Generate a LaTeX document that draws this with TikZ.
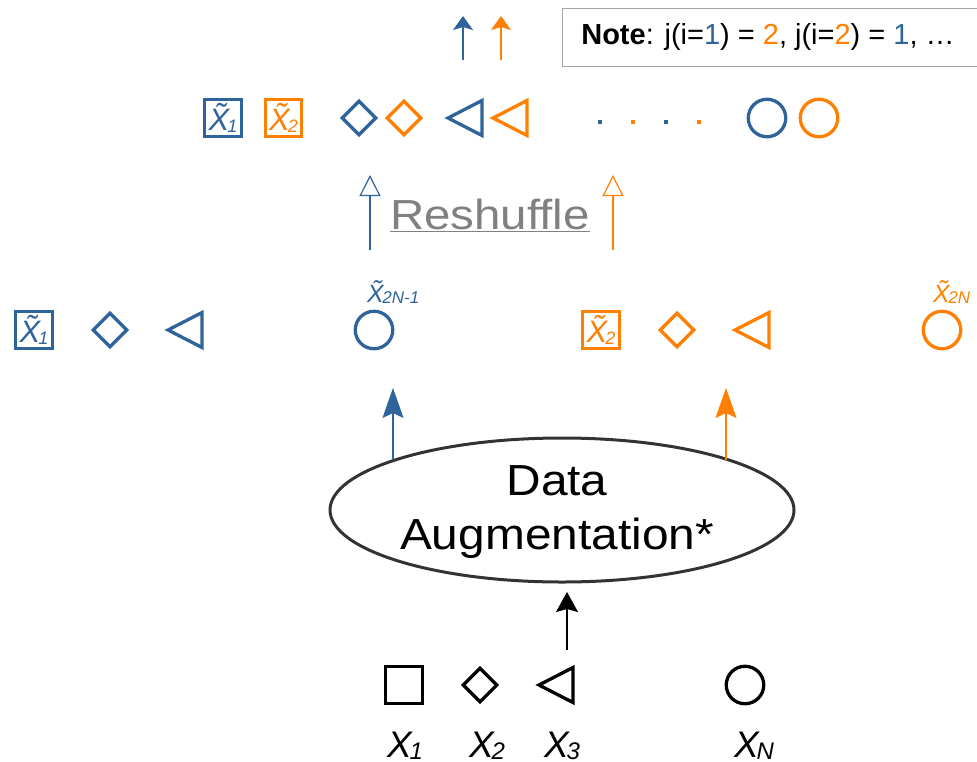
\documentclass[tikz,border=0pt]{standalone}
\usepackage{fontspec}
\setmainfont{Liberation Sans}
\usetikzlibrary{shapes.geometric,arrows.meta}
\definecolor{cb}{RGB}{46,99,155}
\definecolor{co}{RGB}{255,128,0}
\definecolor{cg}{RGB}{128,128,128}
\definecolor{cd}{RGB}{51,51,51}
\newcommand{\lblX}[5]{{\fontsize{#1}{#1}\selectfont\itshape #4\kern-0.06em\raisebox{#5}{\fontsize{#2}{#2}\selectfont #3}}}
\newcommand{\tri}[3]{\draw[shp,#3] (#1+17,#2-17.5) -- (#1-17,#2) -- (#1+17,#2+17.5) -- cycle;}
\tikzset{
  shp/.style={line width=3.3pt},
  sq/.style={shp,draw,rectangle,minimum size=36.5pt,inner sep=0pt},
  dm/.style={shp,draw,diamond,minimum size=35pt,inner sep=0pt},
  ci/.style={shp,draw,circle,minimum size=37.5pt,inner sep=0pt},
  dot/.style={fill,rectangle,minimum size=4pt,inner sep=0pt},
  toparr/.style={line width=1.2pt,-{Stealth[length=14pt,width=20pt,inset=3pt]}},
  openarr/.style={line width=1.1pt,-{Triangle[open,length=21pt,width=21pt,line width=1.2pt]}},
  bigarr/.style={line width=1.1pt,-{Stealth[length=30pt,width=21pt,inset=5pt]}},
  blkarr/.style={line width=1.1pt,-{Stealth[length=20pt,width=22pt,inset=3pt]}},
  lab/.style={inner sep=0pt,anchor=base west}
}
\begin{document}
\begin{tikzpicture}[x=1pt,y=-1pt]
\useasboundingbox (0,0) rectangle (977,761);

% note box
\node[draw=cg!70,line width=1.3pt,minimum width=418pt,minimum height=58pt,anchor=north west,inner sep=0pt] (note) at (562,8) {};
\node[inner sep=0pt] (notetxt) at (768,37) {\fontsize{29}{30}\selectfont\textbf{Note}: j(i=\textcolor{cb}{1}) = \textcolor{co}{2}, j(i=\textcolor{co}{2}) = \textcolor{cb}{1}, …};

% top row
\node[sq,cb] (t1) at (223,118) {\lblX{31}{18}{1}{\~{X}}{-1.5pt}};
\node[sq,co] (t2) at (283.5,118) {\lblX{31}{18}{2}{\~{X}}{-1.5pt}};
\node[dm,cb] (t3) at (359,118) {};
\node[dm,co] (t4) at (404,118) {};
\tri{465}{118}{cb}
\tri{510}{118}{co}
\node[dot,cb] (d1) at (600,122) {};
\node[dot,co] (d2) at (633,122) {};
\node[dot,cb] (d3) at (666,122) {};
\node[dot,co] (d4) at (699,122) {};
\node[ci,cb] (t5) at (767,118) {};
\node[ci,co] (t6) at (819,118) {};

% top small arrows
\coordinate (ub1) at (463,60); \coordinate (ue1) at (463,16);
\coordinate (ub2) at (501,60); \coordinate (ue2) at (501,16);
\draw[toparr,cb] (ub1) -- (ue1);
\draw[toparr,co] (ub2) -- (ue2);

% reshuffle
\coordinate (rb1) at (370,250); \coordinate (re1) at (370,175);
\coordinate (rb2) at (613,250); \coordinate (re2) at (613,175);
\draw[openarr,cb] (rb1) -- (re1);
\draw[openarr,co] (rb2) -- (re2);
\node[text=cg,inner sep=0pt,anchor=base] (resh) at (490,229) {\scalebox{1.13}[1]{\fontsize{42}{42}\selectfont\underline{Reshuffle}}};

% middle row
\node[sq,cb] (m1) at (34,330) {\lblX{31}{18}{1}{\~{X}}{-1.5pt}};
\node[dm,cb] (m2) at (110,330) {};
\tri{185}{330}{cb}
\node[ci,cb] (m3) at (374,330) {};
\node[lab,cb] (l3) at (367,302) {\lblX{25}{17}{2N-1}{\~{X}}{-1.5pt}};
\node[sq,co] (m4) at (601,330) {\lblX{31}{18}{2}{\~{X}}{-1.5pt}};
\node[dm,co] (m5) at (677,330) {};
\tri{752}{330}{co}
\node[ci,co] (m6) at (942,330) {};
\node[lab,co] (l6) at (933,302) {\lblX{25}{17}{2N}{\~{X}}{-1.5pt}};

% data augmentation
\node[ellipse,draw=cd,line width=3pt,minimum width=464pt,minimum height=144pt,inner sep=0pt,align=center] (da) at (562,510) {};
\node[inner sep=0pt,align=center] (datxt) at (557,511) {\scalebox{1.1}[1]{\fontsize{43.5}{55}\selectfont\begin{tabular}{@{}c@{}}Data\\[-1pt]Augmentation*\end{tabular}}};

\coordinate (ab1) at (393,460); \coordinate (ae1) at (393,388);
\coordinate (ab2) at (726,460); \coordinate (ae2) at (726,388);
\draw[bigarr,cb] (ab1) -- (ae1);
\draw[bigarr,co] (ab2) -- (ae2);
\coordinate (kb) at (567,650); \coordinate (ke) at (567,592);
\draw[blkarr,black] (kb) -- (ke);

% bottom row
\node[sq,black] (b1) at (404,685) {};
\node[dm,black] (b2) at (480,685) {};
\tri{556}{685}{black}
\node[ci,black] (b4) at (745,685) {};
\node[lab] (x1) at (387,757) {\lblX{37}{24}{1}{X}{-2pt}};
\node[lab] (x2) at (469,757) {\lblX{37}{24}{2}{X}{-2pt}};
\node[lab] (x3) at (544,757) {\lblX{37}{24}{3}{X}{-2pt}};
\node[lab] (xn) at (734,757) {\lblX{37}{24}{N}{X}{-2pt}};
\end{tikzpicture}
\end{document}
